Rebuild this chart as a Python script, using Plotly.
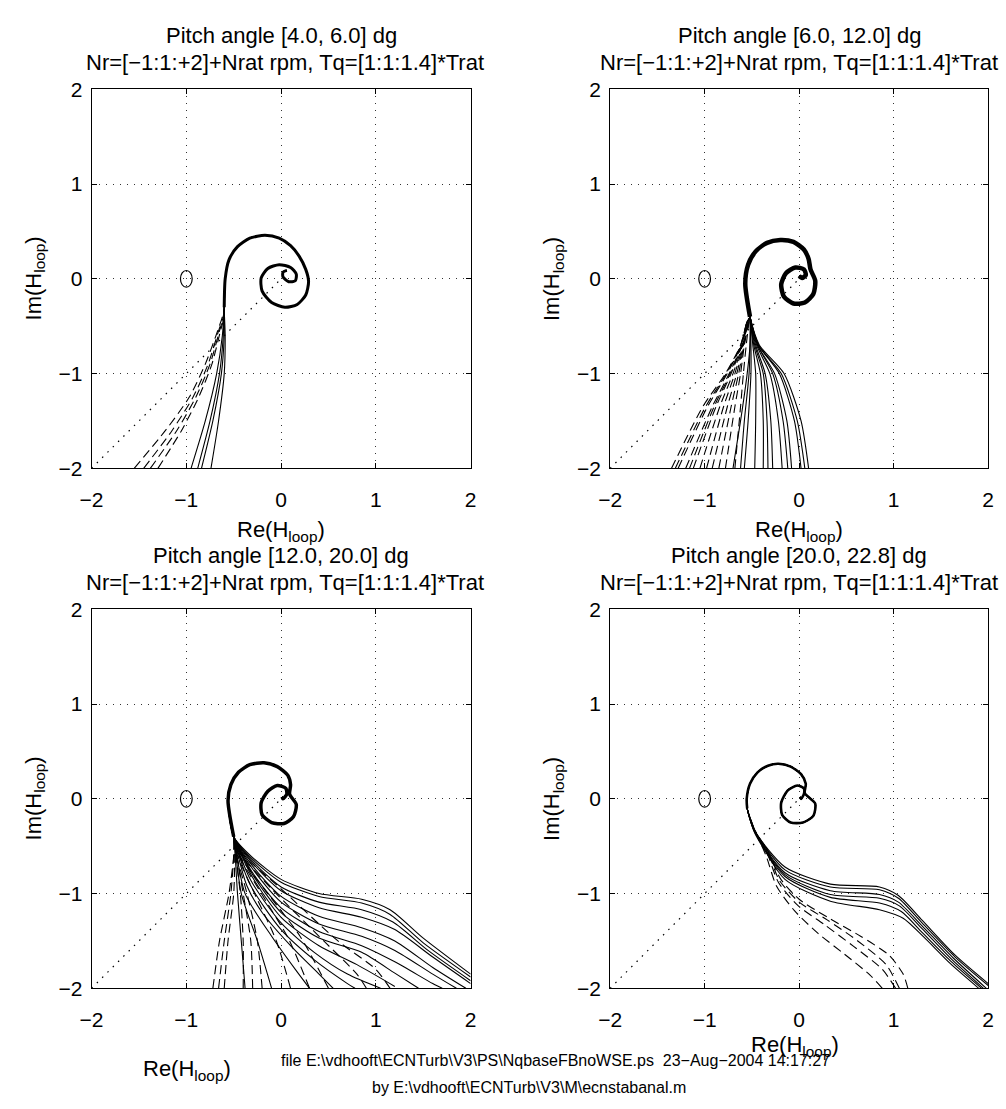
import plotly.graph_objects as go

W, H = 1006, 1109

# ---------------- data ----------------
TICKS = [-2, -1, 0, 1, 2]
TICK_TEXT = ["\u22122", "\u22121", "0", "1", "2"]
CRIT_X, CRIT_Y = -1.0, 0.0
DIAG_X = [-2.0, 0.0]
DIAG_Y = [-2.0, 0.0]

TITLE_1 = ["Pitch angle [4.0, 6.0] dg", "Pitch angle [6.0, 12.0] dg",
           "Pitch angle [12.0, 20.0] dg", "Pitch angle [20.0, 22.8] dg"]
TITLE_2 = "Nr=[\u22121:1:+2]+Nrat rpm, Tq=[1:1:1.4]*Trat"
XLABEL = "Re(H<sub>loop</sub>)"
YLABEL = "Im(H<sub>loop</sub>)"
FOOT_1 = "file E:\\vdhooft\\ECNTurb\\V3\\PS\\NqbaseFBnoWSE.ps  23\u2212Aug\u22122004 14:17:27"
FOOT_2 = "by E:\\vdhooft\\ECNTurb\\V3\\M\\ecnstabanal.m"

# --- panel 1: pitch 4-6 ---
TL_HEAD_X = [-0.60, -0.59, -0.55, -0.46, -0.33, -0.17, -0.02, 0.10, 0.19, 0.26, 0.29, 0.26, 0.17, 0.04,
             -0.10, -0.20, -0.21, -0.14, -0.02, 0.10, 0.16, 0.15, 0.08, 0.02, 0.02, 0.06]
TL_HEAD_Y = [-0.30, 0.00, 0.20, 0.34, 0.43, 0.46, 0.43, 0.35, 0.24, 0.10, -0.03, -0.17, -0.27, -0.30,
             -0.25, -0.13, 0.01, 0.11, 0.15, 0.12, 0.05, -0.02, -0.03, 0.02, 0.07, 0.09]
TL_SOLID_X = [[-0.74, -0.66, -0.60, -0.59], [-0.84, -0.72, -0.63, -0.60],
              [-0.88, -0.75, -0.65, -0.61], [-0.95, -0.80, -0.68, -0.62]]
TL_SOLID_Y = [[-2.0, -1.5, -1.0, -0.6]] * 4
TL_DASH_X = [[-1.55, -1.22, -0.97, -0.80, -0.67, -0.62], [-1.45, -1.15, -0.93, -0.77, -0.66, -0.61],
             [-1.38, -1.10, -0.90, -0.75, -0.65, -0.61], [-1.30, -1.05, -0.87, -0.73, -0.64, -0.60]]
TL_DASH_Y = [[-2.0, -1.6, -1.25, -0.9, -0.55, -0.40]] * 4

# --- panel 2: pitch 6-12 ---
TR_HEAD_X = [-0.52, -0.57, -0.54, -0.46, -0.34, -0.20, -0.06, 0.05, 0.10, 0.12, 0.17, 0.15, 0.06, -0.06,
             -0.16, -0.19, -0.14, -0.04, 0.05, 0.07, 0.03, 0.00]
TR_HEAD_Y = [-0.40, -0.05, 0.15, 0.29, 0.38, 0.41, 0.39, 0.31, 0.21, 0.10, -0.02, -0.16, -0.25, -0.26,
             -0.19, -0.06, 0.06, 0.12, 0.10, 0.04, 0.01, 0.03]
TR_SOLID_X = [[-0.70, -0.62, -0.55, -0.52], [-0.62, -0.58, -0.53, -0.52], [-0.58, -0.54, -0.51, -0.51],
              [-0.47, -0.46, -0.46, -0.49], [-0.38, -0.38, -0.41, -0.48], [-0.33, -0.34, -0.38, -0.47],
              [-0.28, -0.30, -0.36, -0.46], [-0.18, -0.22, -0.31, -0.45], [-0.12, -0.17, -0.28, -0.44],
              [-0.08, -0.13, -0.26, -0.44], [0.02, -0.05, -0.21, -0.43], [0.06, -0.02, -0.19, -0.43],
              [0.10, 0.02, -0.16, -0.42]]
TR_SOLID_Y = [[-2.0, -1.5, -1.0, -0.7]] * 13
TR_DASH_X = [[-1.35, -1.02, -0.78, -0.62, -0.55], [-1.31, -0.99, -0.77, -0.618, -0.55],
             [-1.28, -0.97, -0.76, -0.615, -0.55], [-1.20, -0.92, -0.74, -0.61, -0.55],
             [-1.16, -0.90, -0.73, -0.607, -0.545], [-1.12, -0.88, -0.72, -0.605, -0.545],
             [-1.05, -0.84, -0.70, -0.60, -0.54], [-0.98, -0.80, -0.68, -0.595, -0.54],
             [-0.92, -0.76, -0.66, -0.59, -0.54], [-0.85, -0.72, -0.64, -0.585, -0.535],
             [-0.78, -0.68, -0.62, -0.58, -0.53], [-0.68, -0.62, -0.59, -0.56, -0.53]]
TR_DASH_Y = [[-2.0, -1.35, -1.0, -0.7, -0.45]] * 12

# --- panel 3: pitch 12-20 ---
BL_HEAD_X = [-0.50, -0.56, -0.53, -0.45, -0.33, -0.18, -0.04, 0.07, 0.10, 0.09, 0.16, 0.13, 0.03, -0.10,
             -0.20, -0.21, -0.14, -0.04, 0.05, 0.06, 0.02, 0.01]
BL_HEAD_Y = [-0.40, -0.02, 0.15, 0.28, 0.36, 0.38, 0.34, 0.25, 0.15, 0.05, -0.06, -0.19, -0.26, -0.25,
             -0.17, -0.04, 0.08, 0.14, 0.11, 0.05, 0.00, 0.02]
BL_SOLID_X = [[2.0, 1.5, 1.15, 0.85, 0.40, 0.0, -0.30], [2.0, 1.5, 1.15, 0.85, 0.40, 0.0, -0.30],
              [2.0, 1.55, 1.18, 0.85, 0.40, 0.0, -0.30], [2.0, 1.6, 1.2, 0.85, 0.40, 0.0, -0.30],
              [1.95, 1.6, 1.2, 0.85, 0.40, 0.0, -0.30], [1.85, 1.6, 1.2, 0.85, 0.40, 0.0, -0.30],
              [1.7, 1.6, 1.2, 0.85, 0.40, 0.0, -0.30], [1.45, 1.2, 0.85, 0.40, 0.0, -0.30],
              [1.2, 0.8, 0.4, 0.0, -0.30], [1.05, 0.7, 0.35, 0.0, -0.32], [0.78, 0.7, 0.35, 0.0, -0.33],
              [0.55, 0.40, 0.10, -0.20, -0.36], [0.30, 0.15, -0.10, -0.38], [-0.10, -0.25, -0.42],
              [-0.38, -0.42, -0.46]]
BL_SOLID_Y = [[-1.85, -1.47, -1.17, -1.06, -1.00, -0.85, -0.62], [-1.88, -1.52, -1.22, -1.10, -1.03, -0.88, -0.64],
              [-1.92, -1.60, -1.30, -1.17, -1.09, -0.93, -0.66], [-1.95, -1.67, -1.38, -1.25, -1.15, -0.97, -0.68],
              [-2.0, -1.78, -1.50, -1.36, -1.24, -1.03, -0.71], [-2.0, -1.85, -1.60, -1.45, -1.32, -1.09, -0.74],
              [-2.0, -1.95, -1.72, -1.55, -1.40, -1.15, -0.78], [-2.0, -1.84, -1.62, -1.47, -1.20, -0.80],
              [-1.98, -1.75, -1.55, -1.25, -0.83], [-2.0, -1.85, -1.62, -1.31, -0.86], [-2.0, -1.95, -1.70, -1.38, -0.90],
              [-2.0, -1.85, -1.55, -1.20, -0.92], [-2.0, -1.80, -1.45, -1.0], [-2.0, -1.50, -1.0], [-2.0, -1.50, -1.0]]
BL_DASH_X = [[-0.72, -0.65, -0.55, -0.50], [-0.66, -0.60, -0.53, -0.50], [-0.60, -0.56, -0.50, -0.49],
             [-0.40, -0.40, -0.43, -0.48], [-0.30, -0.32, -0.40, -0.47], [-0.20, -0.25, -0.36, -0.47],
             [0.10, -0.05, -0.28, -0.46], [0.30, 0.08, -0.22, -0.45], [0.50, 0.20, -0.18, -0.45],
             [0.90, 0.80, 0.45, -0.10, -0.44], [1.15, 1.00, 0.60, 0.00, -0.43]]
BL_DASH_Y = [[-2.0, -1.5, -1.0, -0.6], [-2.0, -1.5, -1.0, -0.6], [-2.0, -1.5, -1.0, -0.6],
             [-2.0, -1.5, -1.0, -0.6], [-2.0, -1.5, -1.0, -0.6], [-2.0, -1.5, -1.0, -0.6],
             [-2.0, -1.5, -1.0, -0.6], [-2.0, -1.48, -0.98, -0.59], [-2.0, -1.45, -0.95, -0.58],
             [-2.0, -1.85, -1.50, -0.95, -0.57], [-2.0, -1.80, -1.50, -0.95, -0.56]]

# --- panel 4: pitch 20-22.8 ---
BR_HEAD_X = [-0.55, -0.555, -0.52, -0.44, -0.33, -0.22, -0.09, 0.02, 0.07, 0.06, 0.17, 0.15, 0.04, -0.09,
             -0.18, -0.19, -0.12, -0.02, 0.05, 0.05, 0.02, 0.01]
BR_HEAD_Y = [-0.10, 0.00, 0.16, 0.28, 0.35, 0.37, 0.34, 0.26, 0.16, 0.06, -0.05, -0.18, -0.25, -0.25,
             -0.17, -0.04, 0.09, 0.14, 0.11, 0.05, 0.00, 0.02]
BR_SOLID_X = [[2.00, 1.65, 1.30, 1.05, 0.85, 0.33, -0.15, -0.47], [2.00, 1.65, 1.30, 1.05, 0.85, 0.33, -0.15, -0.47],
              [1.98, 1.63, 1.30, 1.05, 0.85, 0.33, -0.15, -0.47], [1.95, 1.62, 1.30, 1.06, 0.85, 0.33, -0.15, -0.47],
              [1.93, 1.60, 1.30, 1.08, 0.85, 0.33, -0.15, -0.47], [1.90, 1.60, 1.32, 1.10, 0.85, 0.33, -0.15, -0.46]]
BR_SOLID_Y = [[-1.95, -1.65, -1.28, -1.02, -0.93, -0.90, -0.72, -0.34], [-1.97, -1.67, -1.31, -1.05, -0.96, -0.93, -0.75, -0.34],
              [-2.00, -1.68, -1.34, -1.09, -1.01, -0.97, -0.78, -0.35], [-2.00, -1.70, -1.37, -1.13, -1.05, -1.01, -0.80, -0.35],
              [-2.00, -1.71, -1.41, -1.19, -1.10, -1.04, -0.82, -0.36], [-2.00, -1.74, -1.46, -1.26, -1.17, -1.08, -0.85, -0.36]]
BR_DASH_X = [[1.15, 1.10, 0.95, 0.65, 0.30, 0.00, -0.20, -0.33, -0.47], [1.06, 0.92, 0.62, 0.30, 0.0, -0.21, -0.33, -0.47],
             [1.02, 0.88, 0.58, 0.27, -0.02, -0.22, -0.34, -0.47], [0.88, 0.75, 0.48, 0.20, -0.05, -0.24, -0.35, -0.47]]
BR_DASH_Y = [[-2.0, -1.85, -1.65, -1.45, -1.25, -1.06, -0.84, -0.55, -0.33], [-2.0, -1.75, -1.50, -1.28, -1.09, -0.86, -0.56, -0.33],
             [-2.0, -1.80, -1.56, -1.33, -1.12, -0.88, -0.57, -0.33], [-2.0, -1.86, -1.64, -1.42, -1.18, -0.92, -0.60, -0.33]]

PANELS = [
    (TL_HEAD_X, TL_HEAD_Y, TL_SOLID_X, TL_SOLID_Y, TL_DASH_X, TL_DASH_Y),
    (TR_HEAD_X, TR_HEAD_Y, TR_SOLID_X, TR_SOLID_Y, TR_DASH_X, TR_DASH_Y),
    (BL_HEAD_X, BL_HEAD_Y, BL_SOLID_X, BL_SOLID_Y, BL_DASH_X, BL_DASH_Y),
    (BR_HEAD_X, BR_HEAD_Y, BR_SOLID_X, BR_SOLID_Y, BR_DASH_X, BR_DASH_Y),
]

# ---------------- layout geometry (pixels) ----------------
BOX_X = [(81, 467), (609, 994), (81, 467), (609, 994)]
BOX_Y = [(79, 466), (79, 466), (610, 997), (610, 997)]
HEAD_W = [3.0, 4.5, 3.5, 2.6]
TITLE2_SHIFT = [4, 0, 4, 0]
FONT = "Liberation Sans, Arial, sans-serif"


def px(x):
    return x / W


def py(y):
    return 1 - y / H


fig = go.Figure()
line_base = dict(color="black", width=1.1, shape="spline", smoothing=0.7)

for i, (hx, hy, sx, sy, dx, dy) in enumerate(PANELS):
    xa = "x" if i == 0 else f"x{i+1}"
    ya = "y" if i == 0 else f"y{i+1}"
    common = dict(xaxis=xa, yaxis=ya, mode="lines", showlegend=False, hoverinfo="skip")
    fig.add_trace(go.Scatter(x=DIAG_X, y=DIAG_Y, line=dict(color="black", width=1.2, dash="1.5px,6px"), **common))
    for tx, ty in zip(dx, dy):
        fig.add_trace(go.Scatter(x=tx + hx, y=ty + hy, line=dict(line_base, dash="9px,5px"), **common))
    for tx, ty in zip(sx, sy):
        fig.add_trace(go.Scatter(x=tx + hx, y=ty + hy, line=line_base, **common))
    fig.add_trace(go.Scatter(x=hx, y=hy, line=dict(line_base, width=HEAD_W[i]), **common))

axis_common = dict(range=[-2, 2], tickvals=TICKS, ticktext=TICK_TEXT, showline=True, linecolor="black",
                   linewidth=1, mirror="ticks", ticks="inside", ticklen=5, tickcolor="black",
                   showgrid=True, gridcolor="#333", gridwidth=1, griddash="1px,6px", zeroline=False,
                   tickfont=dict(family=FONT, size=21, color="black"), fixedrange=True)

layout = dict(width=W, height=H, margin=dict(l=0, r=0, t=0, b=0), paper_bgcolor="white",
              plot_bgcolor="white", showlegend=False)
shapes = []
annotations = []
for i in range(4):
    sfx = "" if i == 0 else str(i + 1)
    (x0, x1), (y0, y1) = BOX_X[i], BOX_Y[i]
    layout["xaxis" + sfx] = dict(axis_common, domain=[px(x0), px(x1)], anchor="y" + sfx, ticklabelstandoff=12)
    layout["yaxis" + sfx] = dict(axis_common, domain=[py(y1), py(y0)], anchor="x" + sfx, ticklabelstandoff=4)
    shapes.append(dict(type="circle", xref="x" + sfx, yref="y" + sfx, x0=CRIT_X - 0.062, x1=CRIT_X + 0.062,
                       y0=CRIT_Y - 0.088, y1=CRIT_Y + 0.088, line=dict(color="black", width=1.2)))
    cx = (x0 + x1) / 2
    annotations.append(dict(text=TITLE_1[i], x=px(cx), y=py(y0 - 55), xref="paper", yref="paper",
                            showarrow=False, xanchor="center", yanchor="middle",
                            font=dict(family=FONT, size=22, color="black")))
    annotations.append(dict(text=TITLE_2, x=px(cx + TITLE2_SHIFT[i]), y=py(y0 - 27), xref="paper", yref="paper",
                            showarrow=False, xanchor="center", yanchor="middle",
                            font=dict(family=FONT, size=22, color="black")))
    annotations.append(dict(text=YLABEL, x=px(x0 - 58), y=py((y0 + y1) / 2), xref="paper", yref="paper",
                            showarrow=False, xanchor="center", yanchor="middle", textangle=-90,
                            font=dict(family=FONT, size=22, color="black")))

XLABEL_POS = [(274, 530), (801, 530), (178, 1080), (797, 1056)]
for (lx, ly) in XLABEL_POS:
    annotations.append(dict(text=XLABEL, x=px(lx), y=py(ly), xref="paper", yref="paper", showarrow=False,
                            xanchor="center", yanchor="middle", font=dict(family=FONT, size=22, color="black")))
annotations.append(dict(text=FOOT_1, x=px(553), y=py(1071), xref="paper", yref="paper", showarrow=False,
                        xanchor="center", yanchor="middle", font=dict(family=FONT, size=16, color="black")))
annotations.append(dict(text=FOOT_2, x=px(526), y=py(1098), xref="paper", yref="paper", showarrow=False,
                        xanchor="center", yanchor="middle", font=dict(family=FONT, size=16, color="black")))

layout["shapes"] = shapes
layout["annotations"] = annotations
fig.update_layout(**layout)
fig.write_html("out.html")
